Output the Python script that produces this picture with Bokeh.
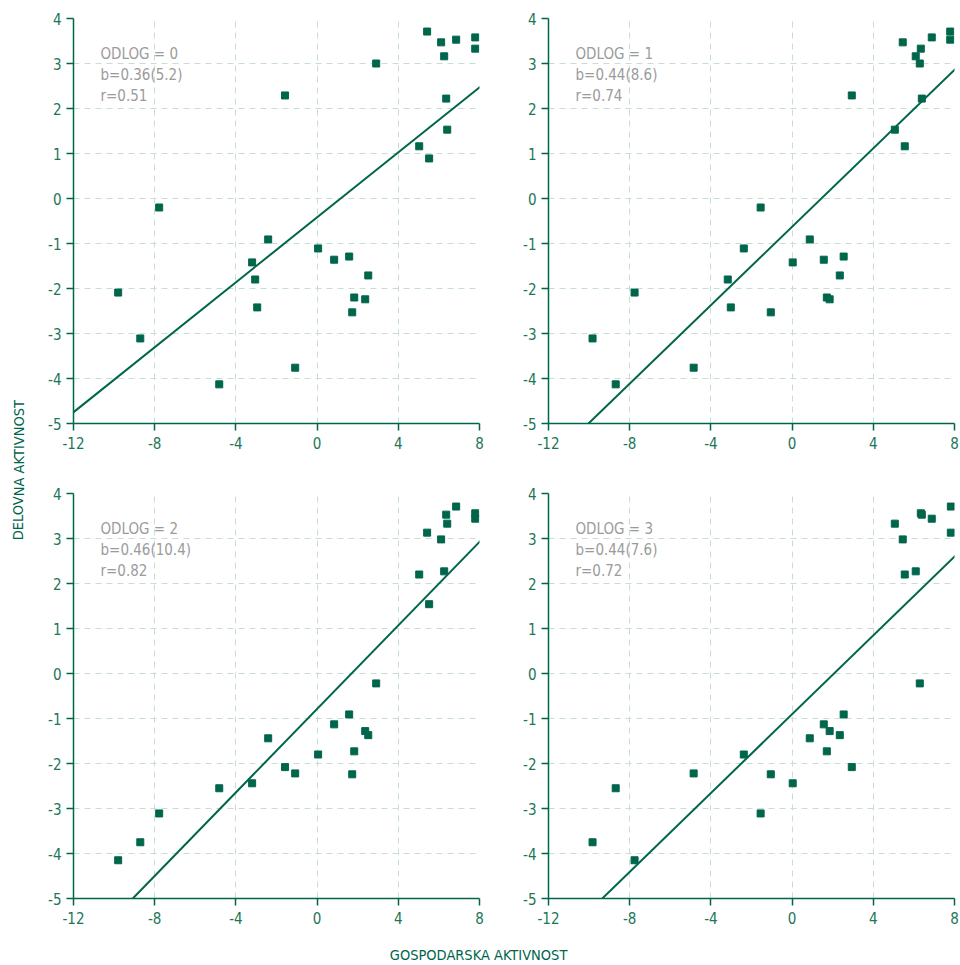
from bokeh.plotting import figure
from bokeh.layouts import column, row
from bokeh.models import Range1d, Slope, Label, FixedTicker
from bokeh.embed import file_html
from bokeh.resources import INLINE

# ---------------- data ----------------
x_ticks = [-12, -8, -4, 0, 4, 8]
y_ticks = [-5, -4, -3, -2, -1, 0, 1, 2, 3, 4]

x0 = [5.42, 6.11, 6.85, 7.79, 7.79, 6.26, 2.91, -1.58, 6.36, 6.41, 5.03, 5.52, -7.78, -2.41,
      0.05, 0.84, 1.58, -3.20, -3.05, 2.52, 1.83, 2.37, -2.95, 1.73, -9.80, -8.71, -1.08, -4.82]
y0 = [3.71, 3.47, 3.53, 3.58, 3.33, 3.16, 3.00, 2.29, 2.22, 1.53, 1.16, 0.89, -0.20, -0.91,
      -1.11, -1.36, -1.29, -1.42, -1.80, -1.71, -2.20, -2.24, -2.42, -2.53, -2.09, -3.11, -3.76, -4.13]

x1 = [7.79, 7.79, 6.88, 5.45, 6.34, 6.09, 6.29, 2.94, 6.39, 5.06, 5.55, -1.55, 0.87, -2.38,
      1.56, 2.54, 0.03, -3.17, 2.35, 1.71, 1.85, -3.02, -1.05, -7.76, -9.83, -4.85, -8.69]
y1 = [3.71, 3.53, 3.58, 3.47, 3.33, 3.16, 3.00, 2.29, 2.22, 1.53, 1.16, -0.20, -0.91, -1.11,
      -1.36, -1.29, -1.42, -1.80, -1.71, -2.20, -2.24, -2.42, -2.53, -2.09, -3.11, -3.76, -4.13]

x2 = [6.85, 6.36, 7.79, 7.79, 6.41, 5.42, 6.11, 6.26, 5.03, 5.52, 2.91, 1.58, 0.84, 2.37,
      2.52, -2.41, 0.05, 1.83, -1.58, -1.08, 1.73, -3.20, -4.82, -7.78, -8.71, -9.80]
y2 = [3.71, 3.53, 3.56, 3.44, 3.33, 3.13, 2.98, 2.27, 2.20, 1.54, -0.22, -0.91, -1.13, -1.28,
      -1.37, -1.44, -1.80, -1.73, -2.08, -2.22, -2.24, -2.44, -2.55, -3.11, -3.75, -4.15]

x3 = [7.82, 6.34, 6.39, 6.88, 5.06, 7.82, 5.45, 6.09, 5.55, 6.29, 2.54, 1.56, 1.85, 2.35,
      0.87, 1.71, -2.38, 2.94, -1.05, -4.85, 0.03, -8.69, -1.55, -9.83, -7.76]
y3 = [3.71, 3.56, 3.53, 3.44, 3.33, 3.13, 2.98, 2.27, 2.20, -0.22, -0.91, -1.13, -1.28, -1.37,
      -1.44, -1.73, -1.80, -2.08, -2.24, -2.22, -2.44, -2.55, -3.11, -3.75, -4.15]

slopes = [0.361, 0.436, 0.464, 0.438]
intercepts = [-0.418, -0.627, -0.787, -0.905]

lag_labels = ["ODLOG = 0", "ODLOG = 1", "ODLOG = 2", "ODLOG = 3"]
b_labels = ["b=0.36(5.2)", "b=0.44(8.6)", "b=0.46(10.4)", "b=0.44(7.6)"]
r_labels = ["r=0.51", "r=0.74", "r=0.82", "r=0.72"]

x_title = "GOSPODARSKA AKTIVNOST"
y_title = "DELOVNA AKTIVNOST"

# ---------------- style ----------------
GREEN = "#00664b"
TICK_GREEN = "#1c7659"
GRID = "#c8ddd3"
NOTE = "#9b9b9b"
FONT = "'DejaVu Sans Condensed', 'Liberation Sans Narrow', Roboto, sans-serif"
FW, FH = 406, 405


def make_panel(xs, ys, k, left, right, top, bottom):
    p = figure(width=left + FW + right, height=top + FH + bottom,
               x_range=Range1d(-12, 8), y_range=Range1d(-5, 4),
               output_backend="svg", toolbar_location=None,
               min_border_left=left, min_border_right=right,
               min_border_top=top, min_border_bottom=bottom)
    p.outline_line_color = None
    p.background_fill_color = "white"
    p.border_fill_color = "white"
    for ax, ticks in ((p.xaxis, x_ticks), (p.yaxis, y_ticks)):
        ax.ticker = FixedTicker(ticks=ticks)
        ax.major_label_overrides = {t: str(t) for t in ticks}
        ax.axis_line_color = GREEN
        ax.axis_line_width = 1.5
        ax.major_tick_line_color = GREEN
        ax.major_tick_line_width = 1.5
        ax.major_tick_out = 7
        ax.major_tick_in = 0
        ax.minor_tick_line_color = None
        ax.major_label_text_color = TICK_GREEN
        ax.major_label_text_font = FONT
        ax.major_label_text_font_size = "15px"
    p.xaxis.major_label_standoff = 6
    p.yaxis.major_label_standoff = 5
    for g in (p.xgrid, p.ygrid):
        g.grid_line_color = GRID
        g.grid_line_dash = "6 5"
        g.grid_line_width = 1
    p.xgrid.ticker = FixedTicker(ticks=x_ticks)
    p.ygrid.ticker = FixedTicker(ticks=y_ticks)

    p.add_layout(Slope(gradient=slopes[k], y_intercept=intercepts[k],
                       line_color=GREEN, line_width=2))
    p.scatter(xs, ys, marker="square", size=7, fill_color=GREEN, line_color=GREEN)

    for txt, yy in ((lag_labels[k], 3.22), (b_labels[k], 2.75), (r_labels[k], 2.28)):
        p.add_layout(Label(x=-10.67, y=yy, text=txt, text_color=NOTE,
                           text_font=FONT, text_font_size="15px",
                           text_baseline="middle", text_align="left"))
    return p


f0 = make_panel(x0, y0, 0, 37, 34, 18, 45)
f1 = make_panel(x1, y1, 1, 35, 6, 18, 45)
f2 = make_panel(x2, y2, 2, 37, 34, 25, 32)
f3 = make_panel(x3, y3, 3, 35, 6, 25, 32)


def text_fig(w, h, txt, x, y, angle):
    f = figure(width=w, height=h, x_range=Range1d(0, 1), y_range=Range1d(0, 1),
               x_axis_type=None, y_axis_type=None, output_backend="svg",
               toolbar_location=None, min_border=0)
    f.outline_line_color = None
    f.border_fill_color = "white"
    f.add_layout(Label(x=x, y=y, text=txt, angle=angle, text_color=GREEN,
                       text_font=FONT, text_font_size="14.5px",
                       text_align="center", text_baseline="middle"))
    return f


ylab = text_fig(36, 930, y_title, 0.5, 0.495, 1.5707963)
xlab = text_fig(960, 35, x_title, 0.498, 0.29, 0)

grid = column(row(f0, f1), row(f2, f3))
layout = column(row(ylab, grid), xlab)

open("out.html", "w").write(file_html(layout, INLINE))
